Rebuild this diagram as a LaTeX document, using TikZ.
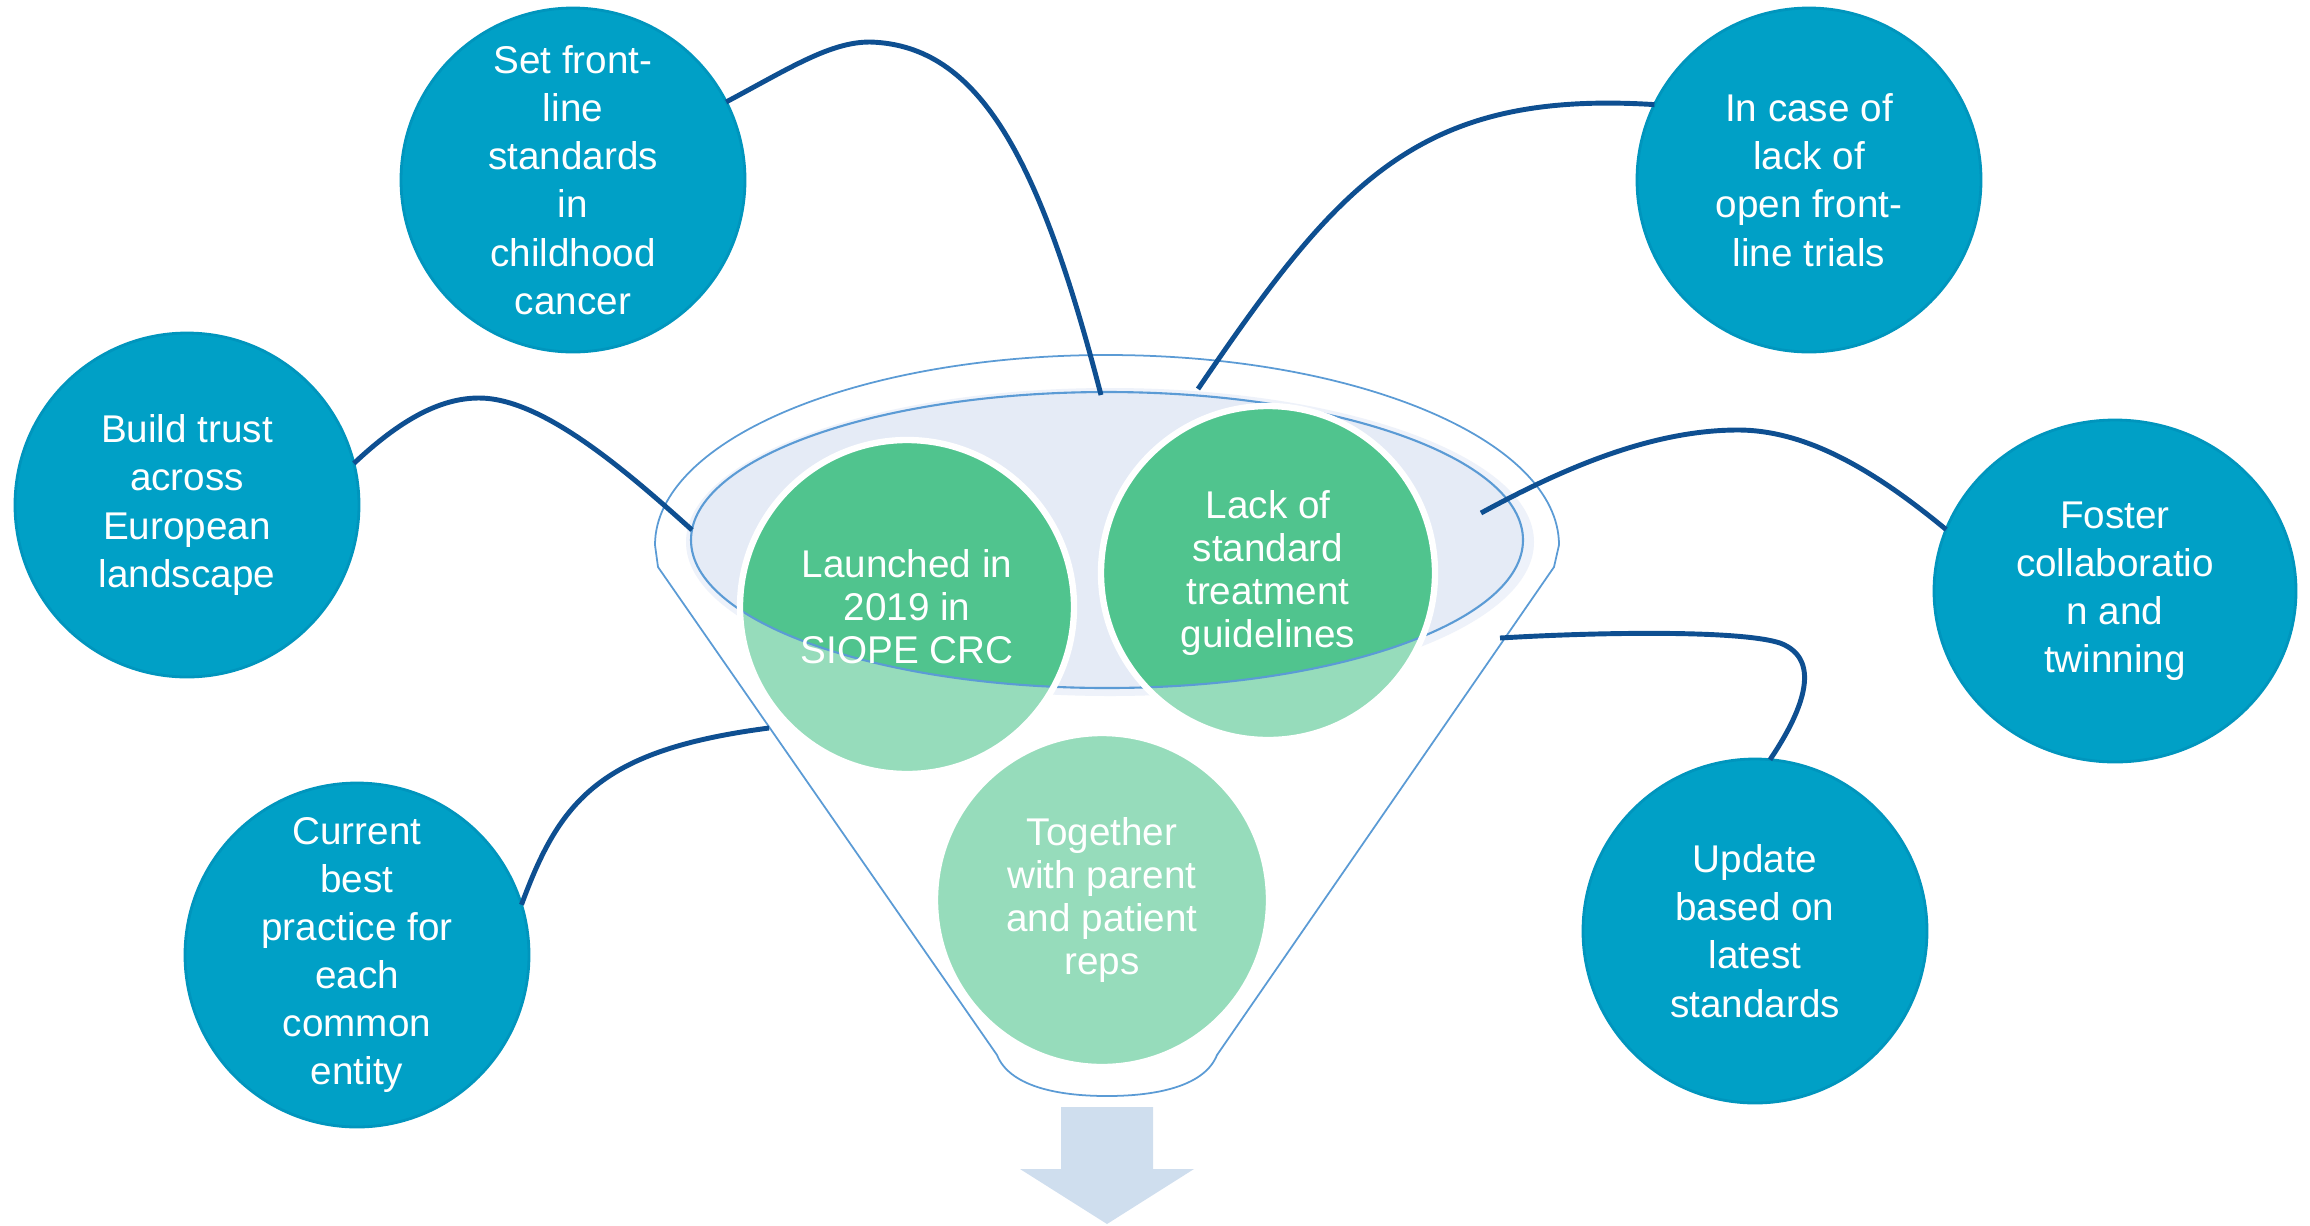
\documentclass[tikz,border=0pt]{standalone}
\usepackage{fontspec}
\setmainfont{Liberation Sans}
\usepackage{tikz}
\usetikzlibrary{positioning,shapes.geometric}
\definecolor{topicblue}{RGB}{0,160,198}
\definecolor{topicedge}{RGB}{0,149,189}
\definecolor{linkblue}{RGB}{14,79,145}
\definecolor{seeddark}{RGB}{80,196,142}
\definecolor{seedlight}{RGB}{150,220,187}
\definecolor{rimfill}{RGB}{229,235,246}
\definecolor{rimhalo}{RGB}{238,242,250}
\definecolor{rimline}{RGB}{91,155,213}
\definecolor{arrowfill}{RGB}{207,222,238}

\begin{document}
\begin{tikzpicture}
[x=0.1mm, y=-0.1mm, font=\fontsize{11}{13.7}\selectfont,
% STYLES
% The topic style is used for the blue circles round the funnel
topic/.style={circle, draw=topicedge, line width=0.8pt, fill=topicblue, text=white, minimum size=3.44cm, inner sep=0pt, outer sep=0pt, align=center},
% The seed style is used for the green circles in the funnel
seed/.style={circle, draw=white, line width=1.8pt, minimum size=3.34cm, inner sep=0pt, align=center, text=white, font=\fontsize{11}{12.2}\selectfont},
% The funnel style is used for the outline of the funnel
funnel/.style={draw=rimline, line width=0.5pt, fill=white},
% The link style is used for the curves
link/.style={draw=linkblue, line width=1.4pt}]

\useasboundingbox (0,0) rectangle (2310,1225);

% Draw funnel
\draw[funnel] (655,545) arc[start angle=180, end angle=0, x radius=45.2mm, y radius=19mm]
  -- (1554,567) -- (1217,1055)
  .. controls (1205,1085) and (1160,1096) .. (1107,1096)
  .. controls (1054,1096) and (1009,1085) .. (997,1055)
  -- (658,567) -- cycle;
\fill[rimhalo] (1110,542) ellipse [x radius=42.4mm, y radius=15.4mm];
\fill[rimfill] (1107,540) ellipse [x radius=41.6mm, y radius=14.8mm];
\fill[arrowfill] (1061,1107) -- (1153,1107) -- (1153,1169) -- (1194,1169)
  -- (1107,1224) -- (1020,1169) -- (1061,1169) -- cycle;

% Fill the green circles
\coordinate (c-launch) at (907,607);
\coordinate (c-lack) at (1268,573);
\coordinate (c-parent) at (1102,900);
\fill[seedlight] (c-launch) circle[radius=16.7mm];
\fill[seedlight] (c-lack) circle[radius=16.7mm];
\fill[seedlight] (c-parent) circle[radius=16.7mm];
\begin{scope}
\clip (1107,540) ellipse [x radius=41.6mm, y radius=14.8mm];
\fill[seeddark] (c-launch) circle[radius=16.7mm];
\fill[seeddark] (c-lack) circle[radius=16.7mm];
\fill[seeddark] (c-parent) circle[radius=16.7mm];
\end{scope}
\draw[rimline, line width=0.6pt] (1107,540) ellipse [x radius=41.6mm, y radius=14.8mm];

% Draw seeds
\node [seed] (launch) at (c-launch) {Launched in\\2019 in\\SIOPE CRC};
\node [seed] (lack) at (c-lack) {Lack of\\standard\\treatment\\guidelines};
\node [seed] (parent) at (c-parent) {Together\\with parent\\and patient\\reps};

%%%%%%%%%%%%%%%
% Draw topics
\node [topic] (set) at (573,180) {Set front-\\line\\standards\\in\\childhood\\cancer};
\node [topic] (trial) at (1809,180) {In case of\\lack of\\open front-\\line trials};
\node [topic] (trust) at (187,505) {Build trust\\across\\European\\landscape};
\node [topic, ellipse, minimum width=3.62cm, minimum height=3.42cm] (foster) at (2115,591) {Foster\\collaboratio\\n and\\twinning};
\node [topic] (best) at (357,955) {Current\\best\\practice for\\each\\common\\entity};
\node [topic] (update) at (1755,931) {Update\\based on\\latest\\standards};
%%%%%%%%%%%%%%%

% Draw the links between topics and funnel
\coordinate (e-set) at (1101,395);
\coordinate (e-trial) at (1198,389);
\coordinate (e-trust) at (692,530);
\coordinate (e-foster) at (1481,513);
\coordinate (e-best) at (769,728);
\coordinate (e-update) at (1500,638);

\path[link] (set.27) .. controls (790,68) and (830,42) .. (870,42)
  .. controls (980,45) and (1040,160) .. (e-set);
\path[link] (trial.154) .. controls (1420,90) and (1340,180) .. (e-trial);
\path[link] (trust.14) .. controls (400,420) and (440,398) .. (479,398)
  .. controls (540,398) and (620,465) .. (e-trust);
\path[link] (foster.160) .. controls (1880,475) and (1810,430) .. (1738,430)
  .. controls (1650,430) and (1560,470) .. (e-foster);
\path[link] (best.17) .. controls (560,800) and (600,750) .. (e-best);
\path[link] (update.85) .. controls (1800,715) and (1825,660) .. (1780,643)
  .. controls (1740,630) and (1600,632) .. (e-update);

\end{tikzpicture}
\end{document}
